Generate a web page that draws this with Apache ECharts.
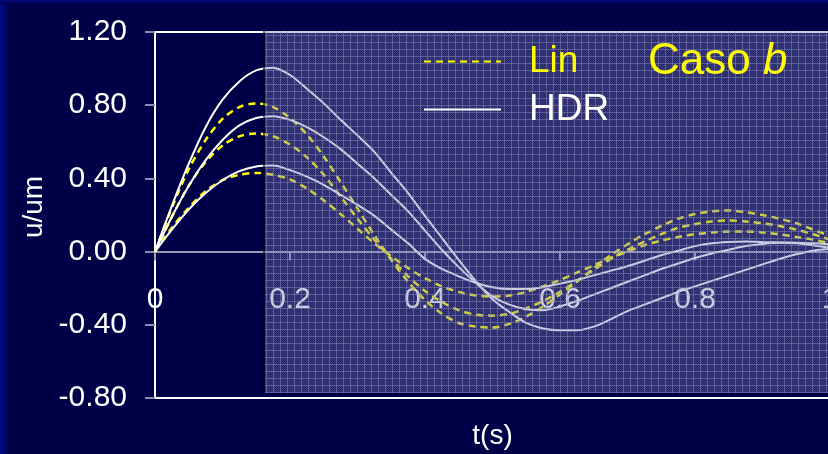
<!DOCTYPE html>
<html><head><meta charset="utf-8">
<script src="https://cdn.jsdelivr.net/npm/echarts@6/dist/echarts.min.js"></script>
<style>html,body{margin:0;padding:0;background:#000048;}#c{width:828px;height:454px;}</style>
</head><body><div id="c"></div>
<script>
// time axis (s)
const tValues = [0,0.025,0.05,0.075,0.1,0.125,0.15,0.175,0.2,0.225,0.25,0.275,0.3,0.325,0.35,0.375,0.4,0.425,0.45,0.475,0.5,0.525,0.55,0.575,0.6,0.625,0.65,0.675,0.7,0.725,0.75,0.775,0.8,0.825,0.85,0.875,0.9,0.925,0.95,0.975,1.0];

// Lin (yellow dashed)
const lin1 = [0,0.24,0.45,0.61,0.725,0.79,0.81,0.79,0.73,0.64,0.52,0.38,0.235,0.09,-0.045,-0.165,-0.265,-0.34,-0.39,-0.41,-0.415,-0.395,-0.355,-0.3,-0.235,-0.165,-0.09,-0.02,0.04,0.095,0.14,0.18,0.205,0.22,0.225,0.215,0.2,0.18,0.155,0.12,0.085];
const lin2 = [0,0.19,0.36,0.49,0.58,0.63,0.645,0.63,0.585,0.515,0.42,0.30,0.18,0.065,-0.04,-0.135,-0.215,-0.275,-0.32,-0.345,-0.35,-0.34,-0.31,-0.27,-0.22,-0.16,-0.10,-0.04,0.01,0.055,0.095,0.13,0.15,0.165,0.17,0.165,0.155,0.14,0.12,0.095,0.065];
const lin3 = [0,0.13,0.24,0.33,0.39,0.42,0.43,0.42,0.395,0.345,0.28,0.205,0.125,0.045,-0.025,-0.09,-0.145,-0.19,-0.22,-0.24,-0.245,-0.24,-0.22,-0.19,-0.155,-0.115,-0.075,-0.035,0.0,0.035,0.06,0.08,0.095,0.105,0.11,0.11,0.105,0.095,0.08,0.065,0.045];

// HDR (white solid)
const hdr1 = [0,0.25,0.48,0.68,0.83,0.93,0.99,1.005,0.965,0.89,0.81,0.72,0.635,0.545,0.43,0.32,0.195,0.075,-0.045,-0.16,-0.26,-0.33,-0.39,-0.42,-0.43,-0.43,-0.41,-0.37,-0.325,-0.29,-0.255,-0.22,-0.19,-0.16,-0.13,-0.10,-0.07,-0.04,-0.015,0.005,0.015];
const hdr2 = [0,0.19,0.36,0.50,0.61,0.69,0.73,0.74,0.72,0.68,0.625,0.56,0.48,0.40,0.31,0.22,0.115,0.01,-0.085,-0.17,-0.245,-0.29,-0.315,-0.32,-0.30,-0.27,-0.235,-0.20,-0.165,-0.13,-0.095,-0.065,-0.035,-0.01,0.01,0.03,0.042,0.048,0.045,0.035,0.02];
const hdr3 = [0,0.12,0.23,0.32,0.39,0.44,0.465,0.47,0.445,0.41,0.365,0.31,0.255,0.195,0.12,0.045,-0.04,-0.095,-0.135,-0.17,-0.195,-0.205,-0.205,-0.195,-0.175,-0.155,-0.13,-0.105,-0.08,-0.05,-0.02,0.005,0.03,0.045,0.052,0.055,0.052,0.05,0.048,0.045,0.04];

const legendNames = ['Lin','HDR'];
const titleText = 'Caso {i|b}';
const xName = 't(s)';
const yName = 'u/um';

const FONT = 'Liberation Sans, Arial, sans-serif';

function makeTile(){
  const c = document.createElement('canvas'); c.width = 7; c.height = 7;
  const g = c.getContext('2d');
  for (let y = 0; y < 7; y++) for (let x = 0; x < 7; x++) {
    g.fillStyle = ((x + y) % 2 === 0) ? 'rgba(100,100,168,0.36)' : 'rgba(150,150,200,0.40)';
    g.fillRect(x, y, 1, 1);
  }
  g.fillStyle = 'rgba(150,150,196,0.44)';
  g.fillRect(0, 0, 7, 1); g.fillRect(0, 0, 1, 7);
  return c;
}

function mk(name, vals, isLin){
  const col = isLin ? '#ffff00' : '#ffffff';
  return {
    type: 'line', name: name, color: col,
    data: tValues.map((t, i) => [t, vals[i]]),
    symbol: 'none', showSymbol: false, smooth: 0.3, z: 3,
    lineStyle: isLin ? {color: col, width: 2.5, type: [7, 5]} : {color: col, width: 2}
  };
}

const chart = echarts.init(document.getElementById('c'), null, {renderer: 'canvas'});
chart.setOption({
  animation: false,
  backgroundColor: '#000048',
  grid: {left: 155, top: 32, width: 675, height: 366, show: true, borderColor: '#ffffff', borderWidth: 2,
    backgroundColor: 'transparent', containLabel: false, outerBoundsMode: 'none'},
  title: {
    text: titleText, left: 643, top: 35, z: 60,
    textStyle: {color: '#ffff00', fontSize: 44, fontWeight: 'normal', fontFamily: FONT,
      rich: {i: {fontStyle: 'italic', fontSize: 44, color: '#ffff00', fontFamily: FONT}}}
  },
  legend: {
    orient: 'vertical', left: 418, top: 38, itemWidth: 77, itemHeight: 14, itemGap: 11, z: 60,
    itemStyle: {opacity: 0},
    data: [
      {name: legendNames[0], textStyle: {color: '#ffff00', padding: [0, 0, 12, 23]}},
      {name: legendNames[1], textStyle: {color: '#ffffff', padding: [0, 0, 0, 23]}}
    ],
    textStyle: {fontSize: 37, fontFamily: FONT, padding: [0, 0, 0, 23]}
  },
  xAxis: {
    type: 'value', min: 0, max: 1, interval: 0.2,
    position: 'bottom', offset: -146.4,
    axisLine: {onZero: false, lineStyle: {color: '#9a9abb', width: 2}},
    axisTick: {show: true, length: 9, lineStyle: {color: '#9a9abb', width: 2}},
    axisLabel: {color: '#ffffff', fontSize: 30, fontFamily: FONT, margin: 33},
    splitLine: {show: false},
    name: xName, nameLocation: 'middle', nameGap: 171,
    nameTextStyle: {color: '#ffffff', fontSize: 28, fontFamily: FONT}
  },
  yAxis: {
    type: 'value', min: -0.8, max: 1.2, interval: 0.4,
    axisLine: {show: true, onZero: false, lineStyle: {color: '#ffffff', width: 2}},
    axisTick: {show: true, length: 10, lineStyle: {color: '#8c8cae', width: 2}},
    axisLabel: {color: '#ffffff', fontSize: 30, fontFamily: FONT, margin: 28, formatter: v => v.toFixed(2)},
    splitLine: {show: false}
  },
  graphic: [
    {type: 'rect', silent: true, z: 1, shape: {x: 0, y: 0, width: 9, height: 454},
      style: {fill: new echarts.graphic.LinearGradient(0, 0, 1, 0, [{offset: 0, color: '#000c8c'}, {offset: 1, color: '#000048'}])}},
    {type: 'rect', silent: true, z: 1, shape: {x: 0, y: 0, width: 828, height: 4},
      style: {fill: new echarts.graphic.LinearGradient(0, 0, 0, 1, [{offset: 0, color: '#000a80'}, {offset: 1, color: '#000048'}])}},
    {type: 'rect', silent: true, z: 50, shape: {x: 265, y: 31, width: 570, height: 362},
      style: {fill: {image: makeTile(), repeat: 'repeat'}}},
    {type: 'rect', silent: true, z: 50, shape: {x: 263, y: 31, width: 2, height: 362},
      style: {fill: 'rgba(0,0,20,0.6)'}},
    {type: 'text', silent: true, z: 60, x: 34, y: 207, rotation: Math.PI / 2,
      style: {text: yName, fill: '#ffffff', fontSize: 28, fontFamily: FONT, align: 'center', verticalAlign: 'middle'}}
  ],
  series: [
    mk('Lin', lin1, true), mk('Lin', lin2, true), mk('Lin', lin3, true),
    mk('HDR', hdr1, false), mk('HDR', hdr2, false), mk('HDR', hdr3, false)
  ]
});
</script>
</body></html>
